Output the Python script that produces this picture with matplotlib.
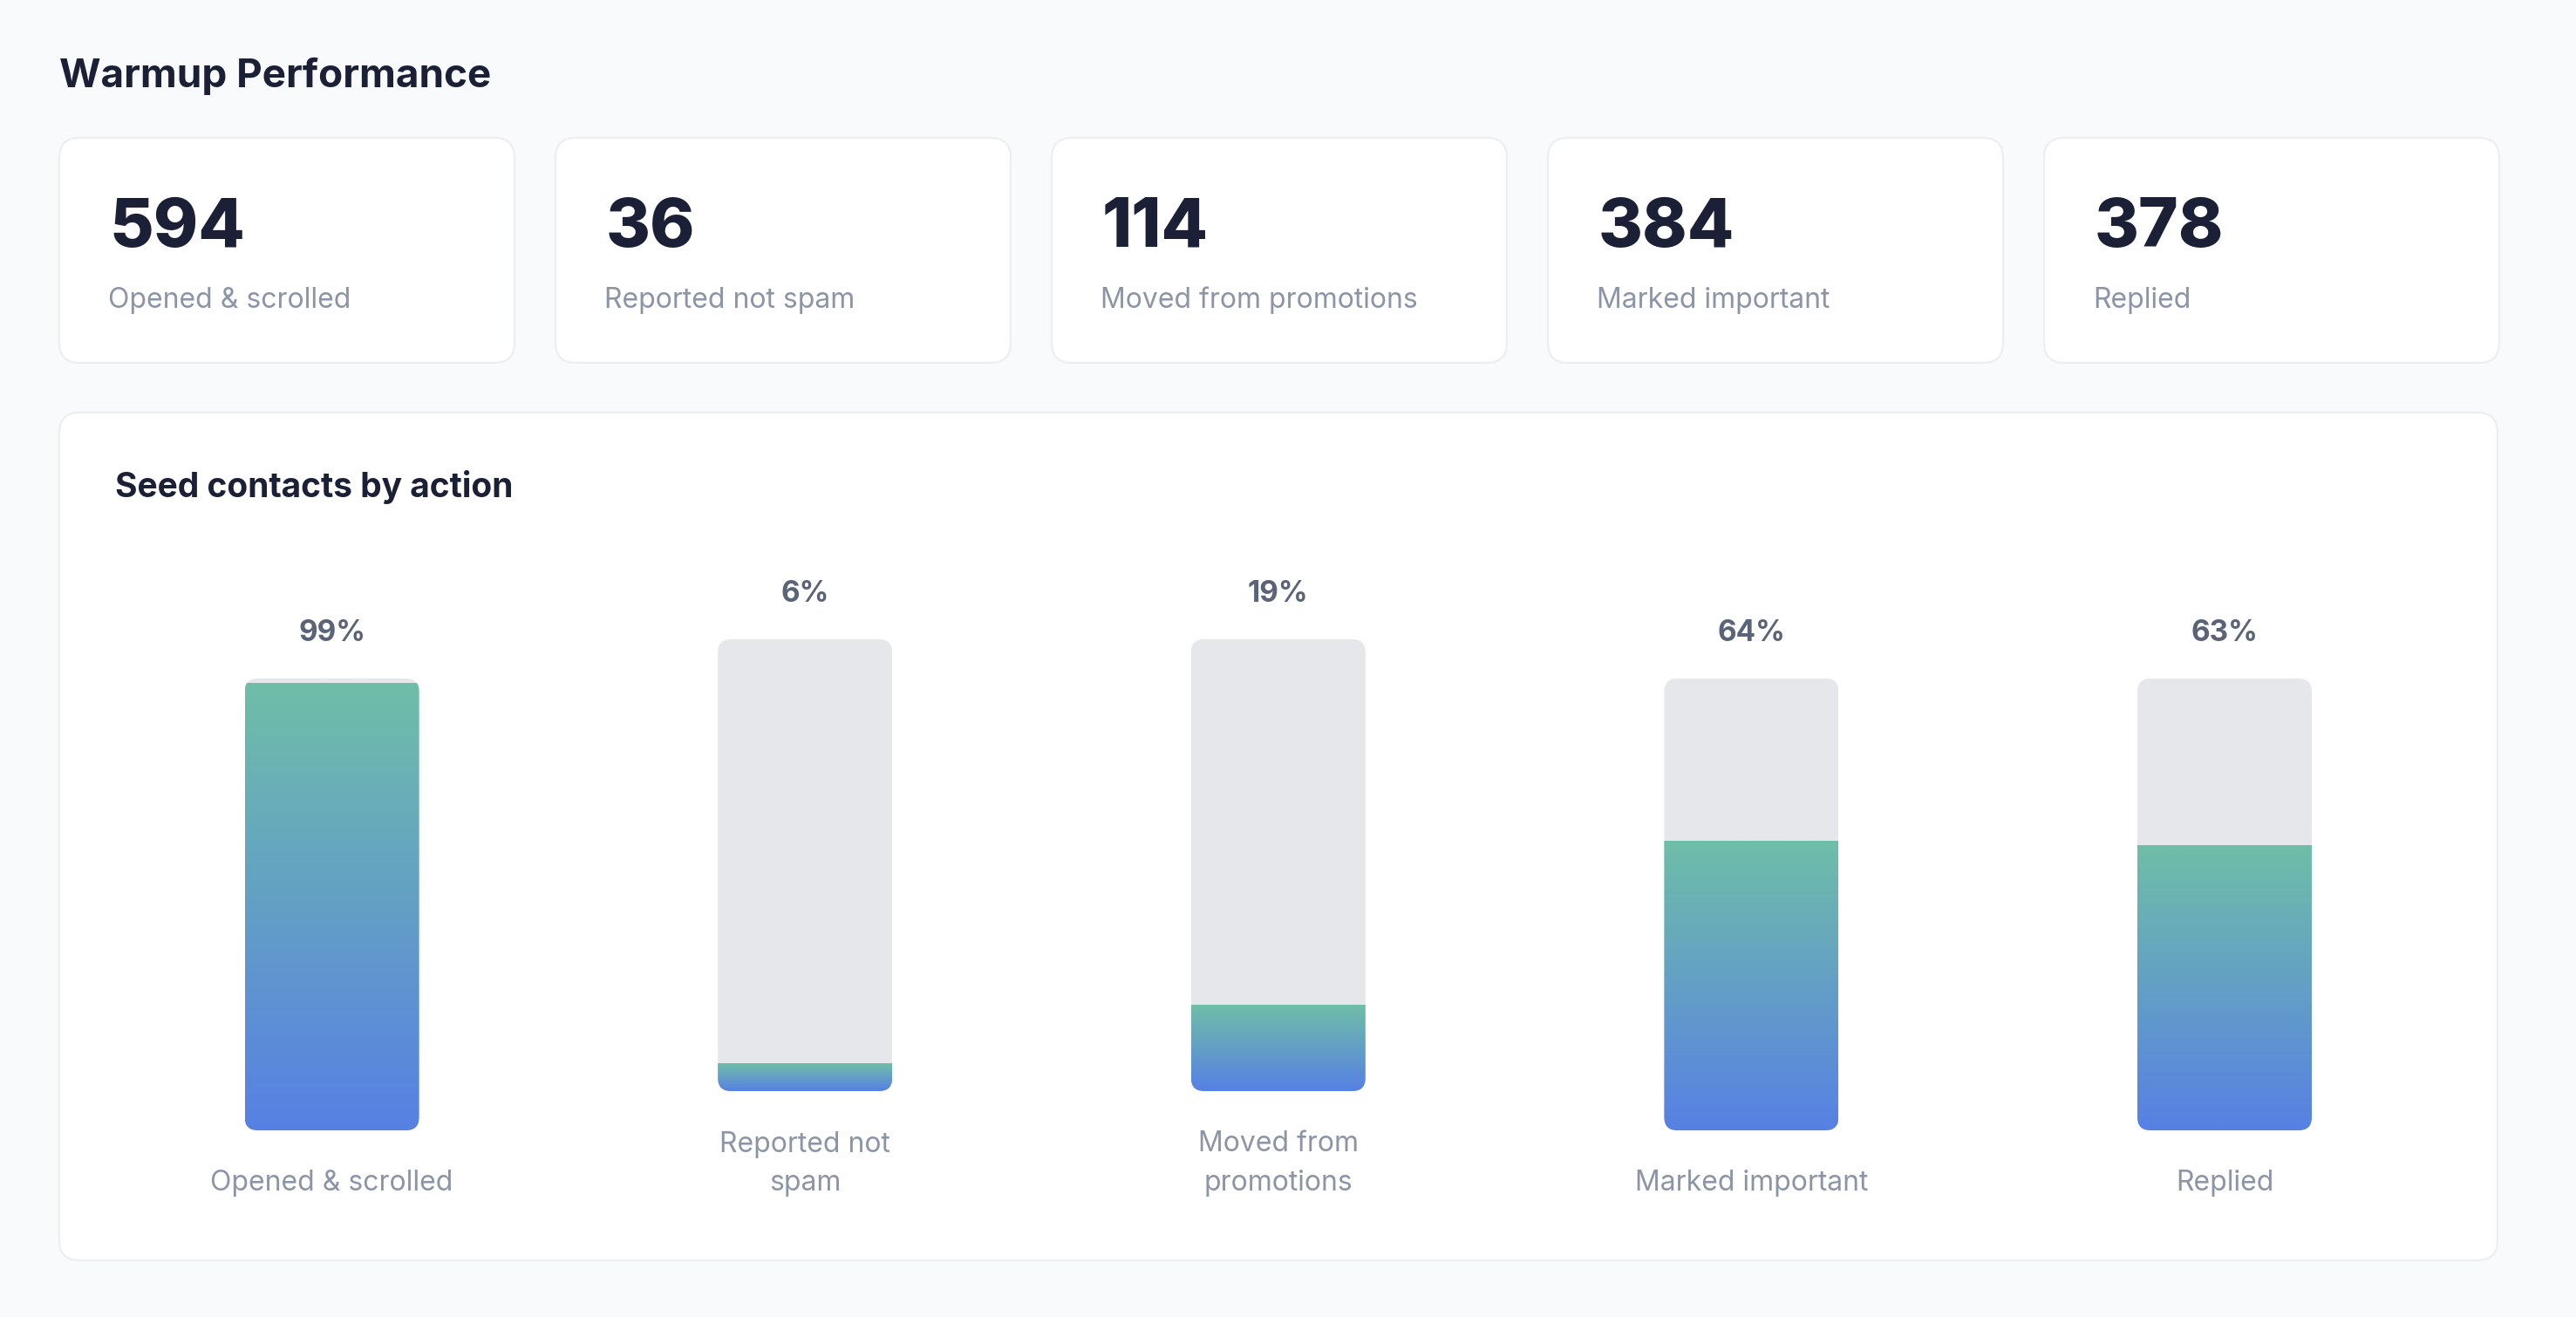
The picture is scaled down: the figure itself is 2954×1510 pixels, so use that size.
import numpy as np
import matplotlib
matplotlib.use("Agg")
import matplotlib.pyplot as plt
from matplotlib.patches import FancyBboxPatch
from matplotlib.colors import LinearSegmentedColormap

# ---------------- data ----------------
stat_values = [594, 36, 114, 384, 378]
stat_labels = ["Opened & scrolled", "Reported not spam", "Moved from promotions",
               "Marked important", "Replied"]
bar_labels = ["Opened & scrolled", "Reported not\nspam", "Moved from\npromotions",
              "Marked important", "Replied"]
bar_pcts = [99, 6, 19, 64, 63]
title = "Warmup Performance"
chart_title = "Seed contacts by action"

# ---------------- style ----------------
plt.rcParams['font.family'] = ['Inter', 'DejaVu Sans']
BG = "#f9fafb"
CARD_EDGE = "#eceef2"
DARK = "#1b2037"
GRAY = "#8c95a8"
PCT_COL = "#5a6377"
TRACK = "#e5e7eb"
GREEN = "#6fbea8"
BLUE = "#5780e4"

W, H = 2954, 1510
DPI = 200
fig = plt.figure(figsize=(W / DPI, H / DPI), dpi=DPI, facecolor=BG)

bg = fig.add_axes([0, 0, 1, 1])
bg.set_xlim(0, W)
bg.set_ylim(H, 0)
bg.axis("off")
bg.set_facecolor(BG)

def card(x0, y0, x1, y1, r=23):
    p = FancyBboxPatch((x0, y0), x1 - x0, y1 - y0,
                       boxstyle=f"round,pad=0,rounding_size={r}",
                       facecolor="white", edgecolor=CARD_EDGE, linewidth=0.8,
                       zorder=1)
    bg.add_patch(p)

# title
bg.text(68, 87, title, fontsize=16.5, fontweight="bold", color=DARK,
        ha="left", va="center")

# stat cards
card_left, card_w, card_gap = 68, 522, 47
card_top, card_bot = 158, 416
for i, (v, lab) in enumerate(zip(stat_values, stat_labels)):
    x0 = card_left + i * (card_w + card_gap)
    card(x0, card_top, x0 + card_w, card_bot)
    bg.text(x0 + 58, 262, f"{v}", fontsize=28, fontweight="heavy", color=DARK,
            ha="left", va="center", zorder=3)
    bg.text(x0 + 56, 344, lab, fontsize=11.5, color=GRAY,
            ha="left", va="center", zorder=3)

# chart card
card(68, 473, 2864, 1445)
bg.text(132, 559, chart_title, fontsize=14, fontweight="bold", color=DARK,
        ha="left", va="center", zorder=3)

# bars
cmap = LinearSegmentedColormap.from_list("g", [BLUE, GREEN])
grad = np.linspace(0, 1, 256).reshape(-1, 1)

first_cx, step = 380.6, 542.6
track_w, track_h = 200, 518
base_bottom = 1296
line_shift = 45
radius = 15

for i, (lab, pct) in enumerate(zip(bar_labels, bar_pcts)):
    lines = lab.split("\n")
    cx = first_cx + i * step
    bottom = base_bottom - (len(lines) - 1) * line_shift
    top = bottom - track_h
    ax = fig.add_axes([(cx - track_w / 2) / W, 1 - bottom / H, track_w / W, track_h / H])
    ax.set_xlim(0, 1)
    ax.set_ylim(0, 100)
    ax.axis("off")
    rs = radius / track_w
    masp = 100 * track_w / track_h
    trk = FancyBboxPatch((0, 0), 1, 100,
                         boxstyle=f"round,pad=0,rounding_size={rs}",
                         mutation_aspect=masp,
                         facecolor=TRACK, edgecolor="none", zorder=1)
    ax.add_patch(trk)
    im = ax.imshow(grad, extent=(0, 1, 0, pct), origin="lower", aspect="auto",
                   cmap=cmap, interpolation="bilinear", zorder=2)
    im.set_clip_path(trk)
    # percent label
    bg.text(cx, top - 52, f"{pct}%", fontsize=12, fontweight="bold", color=PCT_COL,
            ha="center", va="center", zorder=3)
    for j, ln in enumerate(lines):
        bg.text(cx, bottom + 61 + j * 44, ln, fontsize=11.5, color=GRAY,
                ha="center", va="center", zorder=3)

fig.savefig("out.png", dpi=DPI, facecolor=BG)
